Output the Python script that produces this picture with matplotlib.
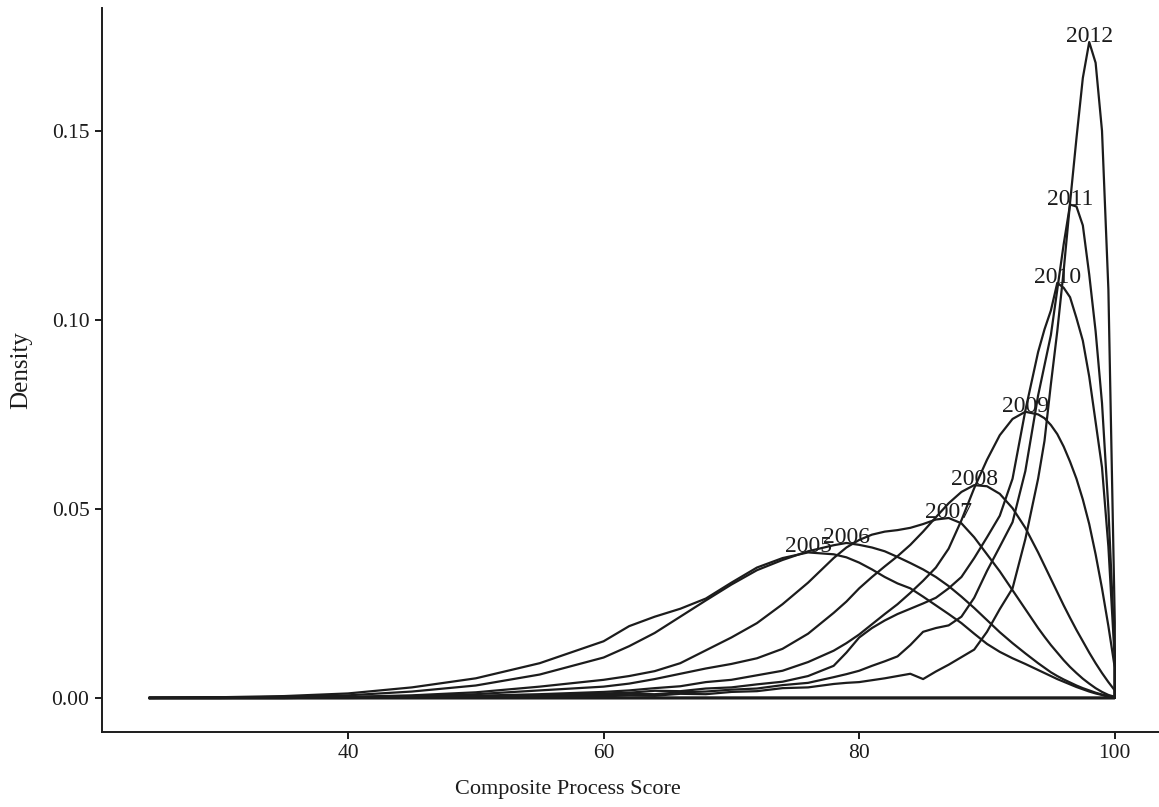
import matplotlib
matplotlib.use("Agg")
import matplotlib.pyplot as plt
import numpy as np

plt.rcParams['font.family'] = ['Liberation Serif', 'DejaVu Serif']

# composite process score grid and density per year
score = [24.5, 30, 35, 40, 45, 50, 55,
         60, 62, 64, 66, 68, 70, 72, 74, 76, 78, 79,
         80, 81, 82, 83, 84, 85, 86, 87, 88, 89, 90, 91, 92, 93,
         94, 94.5, 95, 95.5, 96, 96.5, 97, 97.5, 98, 98.5, 99, 99.5, 100]

d2005 = [0, .0002, .0005, .0012, .0028, .0052, .0092,
         .0150, .0190, .0215, .0236, .0263, .0305, .0345, .0370, .0385, .0380, .0372,
         .0358, .0340, .0320, .0303, .0290, .0268, .0245, .0222, .0198, .0170, .0143, .0122, .0105, .0090,
         .0074, .0066, .0058, .0050, .0043, .0036, .0029, .0023, .0017, .0012, .0008, .0004, .0002]
d2006 = [0, .0001, .0003, .0007, .0017, .0033, .0062,
         .0107, .0137, .0172, .0215, .0258, .0300, .0338, .0365, .0388, .0404, .0410,
         .0405, .0398, .0388, .0373, .0357, .0340, .0320, .0296, .0268, .0238, .0206, .0174, .0145, .0118,
         .0092, .0080, .0068, .0058, .0049, .0041, .0033, .0026, .0020, .0014, .0009, .0005, .0002]
d2007 = [0, 0, .0001, .0003, .0007, .0015, .0030,
         .0048, .0058, .0071, .0092, .0126, .0160, .0198, .0248, .0305, .0370, .0398,
         .0418, .0432, .0440, .0444, .0450, .0460, .0472, .0476, .0462, .0425, .0380, .0335, .0285, .0235,
         .0185, .0162, .0140, .0120, .0100, .0082, .0066, .0051, .0038, .0026, .0016, .0008, .0003]
d2008 = [0, 0, .0001, .0002, .0005, .0010, .0020,
         .0030, .0038, .0050, .0064, .0078, .0090, .0105, .0130, .0170, .0225, .0255,
         .0290, .0320, .0348, .0375, .0405, .0440, .0478, .0515, .0545, .0563, .0560, .0540, .0502, .0450,
         .0385, .0350, .0315, .0280, .0245, .0212, .0180, .0150, .0120, .0092, .0066, .0042, .0020]
d2009 = [0, 0, 0, .0001, .0003, .0006, .0010,
         .0016, .0020, .0026, .0031, .0042, .0048, .0060, .0072, .0095, .0125, .0145,
         .0168, .0195, .0222, .0248, .0278, .0310, .0345, .0395, .0470, .0555, .0630, .0695, .0738, .0757,
         .0750, .0740, .0722, .0698, .0665, .0625, .0580, .0525, .0460, .0380, .0290, .0190, .0080]
d2010 = [0, 0, 0, .0001, .0002, .0004, .0007,
         .0012, .0014, .0019, .0018, .0025, .0028, .0036, .0043, .0058, .0085, .0120,
         .0160, .0185, .0205, .0222, .0236, .0250, .0265, .0290, .0320, .0370, .0425, .0482, .0580, .0760,
         .0915, .0975, .1025, .1098, .1085, .1060, .1005, .0945, .0850, .0730, .0610, .0400, .0100]
d2011 = [0, 0, 0, .0001, .0001, .0003, .0005,
         .0008, .0011, .0010, .0015, .0017, .0022, .0025, .0034, .0040, .0055, .0063,
         .0072, .0085, .0097, .0110, .0140, .0175, .0185, .0192, .0215, .0265, .0336, .0400, .0465, .0600,
         .0800, .0880, .0960, .1080, .1200, .1305, .1300, .1250, .1120, .0970, .0780, .0500, .0120]
d2012 = [0, 0, 0, 0, .0001, .0002, .0003,
         .0005, .0007, .0006, .0011, .0010, .0016, .0018, .0026, .0028, .0037, .0040,
         .0042, .0047, .0052, .0058, .0064, .0050, .0070, .0088, .0108, .0128, .0175, .0235, .0290, .0420,
         .0580, .0680, .0830, .0970, .1130, .1310, .1480, .1640, .1735, .1680, .1500, .1080, .0200]

years = ['2005', '2006', '2007', '2008', '2009', '2010', '2011', '2012']
dens = [d2005, d2006, d2007, d2008, d2009, d2010, d2011, d2012]

ink = '#1c1c1c'
fig = plt.figure(figsize=(11.59, 8.07), dpi=100)
ax = fig.add_axes([102/1159, 75/807, 1057/1159, 724/807])

x = np.array(score)
for yr, d in zip(years, dens):
    d = np.array(d)
    # closed outline like geom_density: curve, then down to the baseline and back
    xs = np.concatenate([x, [x[-1], x[0], x[0]]])
    ys = np.concatenate([d, [0, 0, d[0]]])
    ax.plot(xs, ys, color=ink, lw=1.6, solid_joinstyle='round')
    i = int(np.argmax(d))
    ax.text(x[i], d[i], yr, ha='center', va='baseline', fontsize=17, color=ink)

ax.set_xlim(20.75, 103.46)
ax.set_ylim(-0.009, 0.1825)
ax.set_xticks([40, 60, 80, 100])
ax.set_yticks([0, 0.05, 0.10, 0.15])
ax.set_yticklabels(['0.00', '0.05', '0.10', '0.15'])
for s in ['top', 'right']:
    ax.spines[s].set_visible(False)
for s in ['left', 'bottom']:
    ax.spines[s].set_linewidth(1.4)
    ax.spines[s].set_color(ink)
ax.tick_params(length=5, width=1.4, color=ink, labelsize=15.5, labelcolor=ink, pad=4)

ax.set_xlabel('Composite Process Score', fontsize=16, color=ink)
ax.set_ylabel('Density', fontsize=18, color=ink)
ax.xaxis.set_label_coords(0.441, -0.066)
ax.yaxis.set_label_coords(-0.066, 0.5)

fig.savefig('out.png', dpi=100, facecolor='white')
